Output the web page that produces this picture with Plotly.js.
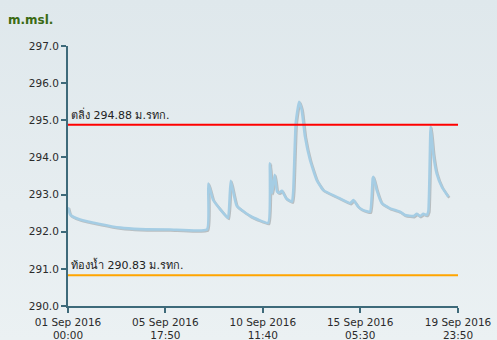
<!DOCTYPE html>
<html>
<head>
<meta charset="utf-8">
<script src="https://cdn.plot.ly/plotly-3.0.1.min.js"></script>
<style>
  html, body { margin:0; padding:0; }
  body { width:497px; height:340px; background: linear-gradient(to bottom, #dfe8ec 0%, #e6edf0 60%, #ebf1f3 100%); }
  #chart { width:497px; height:340px; }
  #chart .scatterlayer .trace path.js-line { filter: drop-shadow(1px 1px 0.6px rgba(0,0,0,0.2)); }
</style>
</head>
<body>
<div id="chart"></div>
<script>
// Water level (m.msl.) time series
const times = [
  '2016-09-01 00:00','2016-09-01 02:20','2016-09-01 04:40','2016-09-01 14:00','2016-09-02 13:00',
  '2016-09-03 13:00','2016-09-04 12:00','2016-09-05 23:00','2016-09-07 18:30','2016-09-07 20:00',
  '2016-09-08 01:30','2016-09-08 09:40','2016-09-08 19:00','2016-09-08 22:10','2016-09-09 05:10',
  '2016-09-09 20:40','2016-09-10 18:00','2016-09-10 20:00','2016-09-10 22:30','2016-09-11 01:30',
  '2016-09-11 03:00','2016-09-11 04:20','2016-09-11 06:40','2016-09-11 10:00','2016-09-11 14:50',
  '2016-09-11 21:50','2016-09-11 23:20','2016-09-12 02:10','2016-09-12 06:00','2016-09-12 09:10',
  '2016-09-12 13:00','2016-09-12 18:50','2016-09-13 02:40','2016-09-13 10:20','2016-09-14 02:00',
  '2016-09-14 17:40','2016-09-14 21:30','2016-09-15 03:20','2016-09-15 09:10','2016-09-15 17:00',
  '2016-09-15 20:10','2016-09-15 20:50','2016-09-16 00:50','2016-09-16 06:40','2016-09-16 16:20',
  '2016-09-17 04:00','2016-09-17 09:50','2016-09-17 19:40','2016-09-17 23:40','2016-09-18 03:20',
  '2016-09-18 07:20','2016-09-18 11:10','2016-09-18 13:10','2016-09-18 15:50','2016-09-18 18:50',
  '2016-09-18 22:50','2016-09-19 04:50','2016-09-19 12:30'
];
const levels = [
  292.66, 292.47, 292.42, 292.33, 292.21,
  292.11, 292.07, 292.06, 292.06, 293.30,
  292.86, 292.61, 292.37, 293.37, 292.70,
  292.43, 292.24, 293.84, 293.04, 293.53,
  293.30, 293.08, 293.05, 293.10, 292.90,
  292.81, 293.12, 294.92, 295.50, 295.28,
  294.56, 293.93, 293.39, 293.12, 292.94,
  292.77, 292.85, 292.67, 292.58, 292.54,
  293.44, 293.48, 293.12, 292.77, 292.63,
  292.54, 292.45, 292.42, 292.48, 292.42,
  292.48, 292.45, 292.55, 294.83, 294.11,
  293.57, 293.21, 292.94
];
const bankLevel = 294.88;
const bedLevel = 290.83;
const bankLabel = 'ตลิ่ง 294.88 ม.รทก.';
const bedLabel = 'ท้องน้ำ 290.83 ม.รทก.';
const xTickVals = ['2016-09-01 00:00','2016-09-05 17:50','2016-09-10 11:40','2016-09-15 05:30','2016-09-19 23:50'];
const xTickText = ['01 Sep 2016<br>00:00','05 Sep 2016<br>17:50','10 Sep 2016<br>11:40','15 Sep 2016<br>05:30','19 Sep 2016<br>23:50'];
const yTickVals = [290, 291, 292, 293, 294, 295, 296, 297];
const yTickText = ['290.0','291.0','292.0','293.0','294.0','295.0','296.0','297.0'];

const axisColor = '#3e6a7a';
const tickFont = {family:'DejaVu Sans, sans-serif', size:10.5, color:'#2b2b2b'};

const data = [{
  x: times, y: levels, type:'scatter', mode:'lines',
  line:{color:'#a5cde4', width:2.6, shape:'spline', smoothing:0.4},
  hoverinfo:'skip', showlegend:false
}];

const layout = {
  width:497, height:340,
  margin:{l:68, r:39, t:46, b:34, pad:0},
  paper_bgcolor:'rgba(0,0,0,0)', plot_bgcolor:'rgba(0,0,0,0)',
  title:{text:'<b>m.msl.</b>', x:8/497, xanchor:'left', xref:'container', y:1-20/340, yref:'container', yanchor:'middle',
         font:{family:'DejaVu Sans, sans-serif', size:12, color:'#3b6b14'}},
  xaxis:{
    type:'date', range:[xTickVals[0], xTickVals[4]],
    tickmode:'array', tickvals:xTickVals, ticktext:xTickText,
    showgrid:false, zeroline:false, showline:true, linecolor:axisColor, linewidth:2,
    ticks:'outside', ticklen:5, tickwidth:2, tickcolor:axisColor, tickfont:tickFont
  },
  yaxis:{
    range:[290, 297], tickmode:'array', tickvals:yTickVals, ticktext:yTickText,
    showgrid:false, zeroline:false, showline:true, linecolor:axisColor, linewidth:2,
    ticks:'outside', ticklen:5, tickwidth:2, tickcolor:axisColor, tickfont:tickFont
  },
  shapes:[
    {type:'line', xref:'paper', x0:0, x1:1, yref:'y', y0:bankLevel, y1:bankLevel, line:{color:'#ff0000', width:2}},
    {type:'line', xref:'paper', x0:0, x1:1, yref:'y', y0:bedLevel, y1:bedLevel, line:{color:'#ffa500', width:2}}
  ],
  annotations:[
    {text:bankLabel, xref:'paper', x:0, xanchor:'left', yref:'y', y:bankLevel, yanchor:'bottom', yshift:1, xshift:1,
     showarrow:false, font:{family:'DejaVu Sans, Noto Sans, sans-serif', size:11, color:'#222'}},
    {text:bedLabel, xref:'paper', x:0, xanchor:'left', yref:'y', y:bedLevel, yanchor:'bottom', yshift:1, xshift:1,
     showarrow:false, font:{family:'DejaVu Sans, Noto Sans, sans-serif', size:11, color:'#222'}}
  ]
};

Plotly.newPlot('chart', data, layout, {displayModeBar:false, staticPlot:true});
</script>
</body>
</html>
